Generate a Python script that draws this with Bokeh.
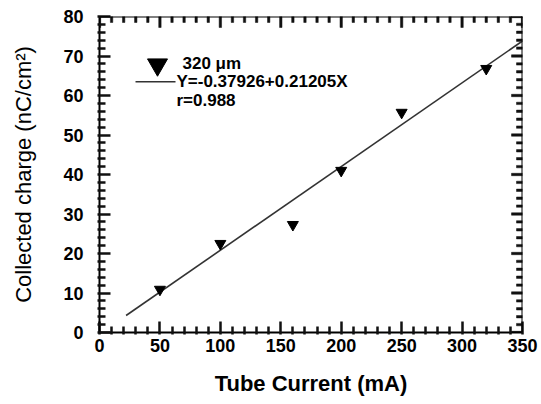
from bokeh.plotting import figure
from bokeh.models import Range1d, Label, FixedTicker, ColumnDataSource, Span
from bokeh.embed import file_html
from bokeh.resources import INLINE

# data
tube_current = [50, 100, 160, 200, 250, 320]
charge = [10.9, 22.5, 27.3, 41.0, 55.7, 66.8]
fit_x = [22, 350]
fit_y = [4.3, 73.8]
series_label = "320 \u03bcm"
fit_label = "Y=-0.37926+0.21205X"
r_label = "r=0.988"
x_ticks = [0, 50, 100, 150, 200, 250, 300, 350]
y_ticks = [0, 10, 20, 30, 40, 50, 60, 70, 80]
x_minor = [v for v in range(0, 351, 10) if v not in x_ticks]
y_minor = [v for v in range(0, 81, 2) if v not in y_ticks]

FONT = "Liberation Sans"
X0, X1, Y0, Y1 = 0.0, 350.0, 0.0, 80.0
FW, FH = 423, 316

p = figure(frame_width=FW, frame_height=FH,
           output_backend="svg", toolbar_location=None,
           x_range=Range1d(X0, X1), y_range=Range1d(Y0, Y1),
           min_border_left=99, min_border_right=19, min_border_top=16, min_border_bottom=72)
p.xgrid.grid_line_color = None
p.ygrid.grid_line_color = None
p.outline_line_color = None

p.xaxis.ticker = FixedTicker(ticks=x_ticks, minor_ticks=x_minor)
p.yaxis.ticker = FixedTicker(ticks=y_ticks, minor_ticks=y_minor)
for ax in (p.xaxis[0], p.yaxis[0]):
    ax.major_tick_in = 11
    ax.major_tick_out = 2
    ax.minor_tick_in = 6
    ax.minor_tick_out = 2
    ax.major_tick_line_width = 2.5
    ax.minor_tick_line_width = 2.5
    ax.major_tick_line_color = "#111111"
    ax.minor_tick_line_color = "#111111"
    ax.axis_line_width = 2
    ax.major_label_text_font = FONT
    ax.major_label_text_font_style = "bold"
    ax.major_label_text_font_size = "18px"
    ax.major_label_text_color = "black"
    ax.axis_label_text_font = FONT
    ax.axis_label_text_color = "black"

p.xaxis[0].major_label_standoff = 4
p.yaxis[0].major_label_standoff = 14

p.xaxis[0].axis_label = "Tube Current (mA)"
p.xaxis[0].axis_label_text_font_style = "bold"
p.xaxis[0].axis_label_text_font_size = "22px"
p.xaxis[0].axis_label_standoff = 16

p.yaxis[0].axis_label = "Collected charge (nC/cm\u00b2)"
p.yaxis[0].axis_label_text_font_style = "normal"
p.yaxis[0].axis_label_text_font_size = "22px"
p.yaxis[0].axis_label_standoff = 24

# top and right frame edges
p.add_layout(Span(location=Y1, dimension="width", line_color="black", line_width=2))
p.add_layout(Span(location=X1, dimension="height", line_color="black", line_width=2))

# inward ticks on the top and right sides, as thin filled quads (pixel sizes -> data units)
kx = (X1 - X0) / FW
ky = (Y1 - Y0) / FH
MAJ, MIN = 11, 6
left, right, bottom, top = [], [], [], []
for xs, L in [(x_ticks, MAJ), (x_minor, MIN)]:
    for x in xs:
        left.append(x - 1.2 * kx); right.append(x + 1.2 * kx); bottom.append(Y1 - L * ky); top.append(Y1)
for ys, L in [(y_ticks, MAJ), (y_minor, MIN)]:
    for y in ys:
        left.append(X1 - L * kx); right.append(X1); bottom.append(y - 1.2 * ky); top.append(y + 1.2 * ky)
tick_src = ColumnDataSource(dict(left=left, right=right, bottom=bottom, top=top))
p.quad(left="left", right="right", bottom="bottom", top="top", source=tick_src,
       fill_color="#111111", line_color="#111111", line_width=0.5)

# fit line and points
p.line(fit_x, fit_y, line_color="#333333", line_width=1.6)
p.scatter(tube_current, charge, marker="inverted_triangle", size=11,
          fill_color="black", line_color="black")

# legend (layout positions in data units)
p.scatter([48], [67.8], marker="inverted_triangle", size=20,
          fill_color="black", line_color="black")
p.segment(x0=[29.8], y0=[63.5], x1=[62.9], y1=[63.5], line_color="#333333", line_width=1.6)
for txt, lx, ly in [(series_label, 68.7, 68.1), (fit_label, 63.7, 63.5), (r_label, 63.7, 58.7)]:
    p.add_layout(Label(x=lx, y=ly, text=txt, text_font=FONT, text_font_style="bold",
                       text_font_size="17px", text_baseline="middle", text_color="black"))

open("out.html", "w").write(file_html(p, INLINE))
